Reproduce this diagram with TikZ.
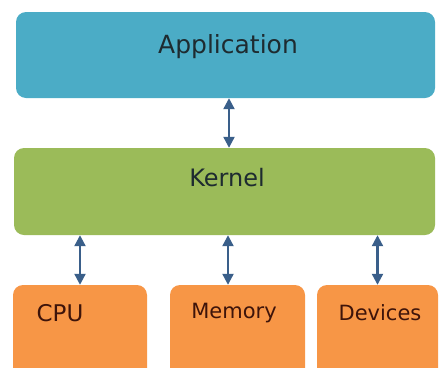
\documentclass[tikz,border=0pt]{standalone}
\usepackage{fontspec}
\setmainfont{DejaVu Sans}
\usetikzlibrary{arrows.meta}
\definecolor{appblue}{HTML}{4BACC6}
\definecolor{kernelgreen}{HTML}{9BBB59}
\definecolor{hworange}{HTML}{F79646}
\definecolor{arrowblue}{HTML}{3A5F8A}
\definecolor{toptext}{HTML}{1E2B30}
\definecolor{hwtext}{HTML}{3E140A}

\begin{document}
\begin{tikzpicture}[x=1pt,y=-1pt,
  layer/.style={rounded corners=10pt,inner sep=0pt},
  hwbox/.style={layer,fill=hworange,minimum height=100pt},
  link/.style={draw=arrowblue,line width=2.2pt,
    {Triangle[length=11pt,width=11pt]}-{Triangle[length=11pt,width=11pt]}}]
\useasboundingbox (0,0) rectangle (443,367);
\path
(225.5,55)    node[layer,fill=appblue,minimum width=419pt,minimum height=86pt] (app) {}
(224.5,191.5) node[layer,fill=kernelgreen,minimum width=421pt,minimum height=87pt] (kernel) {}
(80,335)      node[hwbox,minimum width=134pt] (cpu) {}
(237.5,335)   node[hwbox,minimum width=135pt] (memory) {}
(377.5,335)   node[hwbox,minimum width=121pt] (devices) {};

% labels
\path
(228,47)  node[text=toptext,font=\fontsize{25}{30}\selectfont] (applabel) {Application}
(227,178) node[text=toptext,font=\fontsize{24}{29}\selectfont] (kernellabel) {Kernel}
(60,313)  node[text=hwtext,font=\fontsize{23}{28}\selectfont] (cpulabel) {CPU}
(234,313) node[text=hwtext,font=\fontsize{21}{25}\selectfont] (memlabel) {Memory}
(380,313) node[text=hwtext,font=\fontsize{21}{25}\selectfont] (devlabel) {Devices};

\coordinate (memtop) at ([xshift=-9.5pt]memory.north);
\draw[link] ([xshift=3.5pt]app.south) -- ([xshift=4.5pt]kernel.north);
\draw[link] (kernel.south -| cpu.north) -- (cpu.north);
\draw[link] (kernel.south -| memtop) -- (memtop);
\draw[link] (kernel.south -| devices.north) -- (devices.north);
\end{tikzpicture}
\end{document}
